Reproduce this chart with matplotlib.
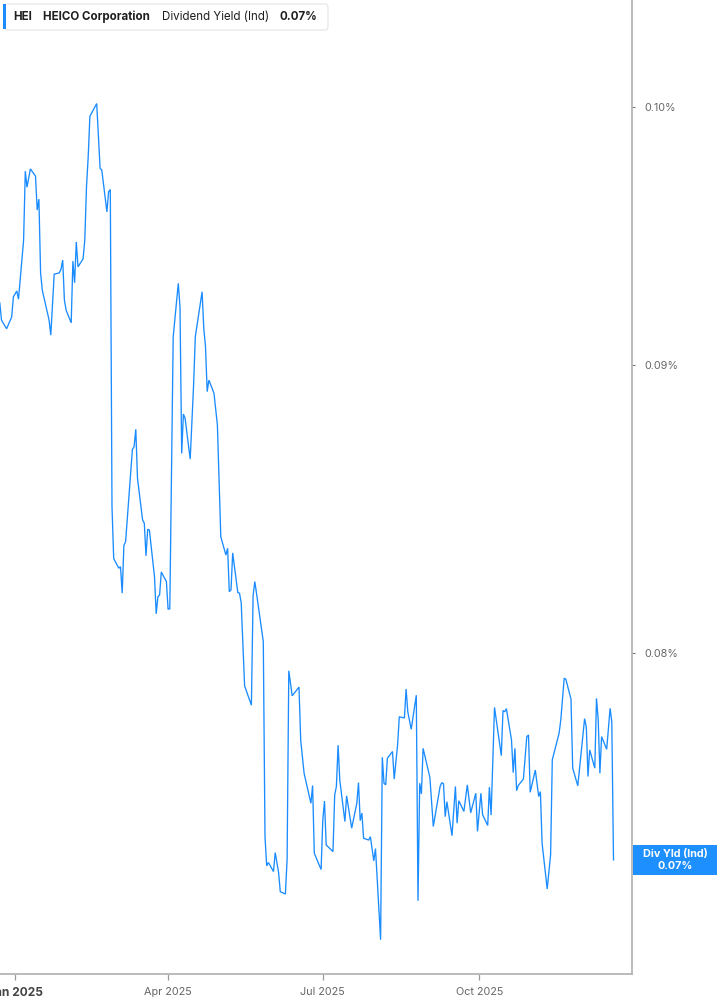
import matplotlib
matplotlib.use("Agg")
import matplotlib.pyplot as plt
import matplotlib.dates as mdates
from matplotlib.patches import FancyBboxPatch, Rectangle
from matplotlib.ticker import FixedLocator, FuncFormatter, NullLocator
import pandas as pd

plt.rcParams['font.family'] = ['Inter', 'DejaVu Sans']

# ---------------- data ----------------
dates = [
    "2024-12-23", "2024-12-24", "2024-12-27", "2024-12-30", "2024-12-31",
    "2025-01-02", "2025-01-03", "2025-01-06", "2025-01-07", "2025-01-08",
    "2025-01-10", "2025-01-13", "2025-01-14", "2025-01-15", "2025-01-16",
    "2025-01-17", "2025-01-21", "2025-01-22", "2025-01-24", "2025-01-27",
    "2025-01-28", "2025-01-29", "2025-01-30", "2025-01-31", "2025-02-03",
    "2025-02-04", "2025-02-05", "2025-02-06", "2025-02-07", "2025-02-10",
    "2025-02-11", "2025-02-12", "2025-02-13", "2025-02-14", "2025-02-18",
    "2025-02-20", "2025-02-21", "2025-02-24", "2025-02-25", "2025-02-26",
    "2025-02-27", "2025-02-28", "2025-03-03", "2025-03-04", "2025-03-05",
    "2025-03-06", "2025-03-07", "2025-03-11", "2025-03-12", "2025-03-13",
    "2025-03-14", "2025-03-17", "2025-03-18", "2025-03-19", "2025-03-20",
    "2025-03-21", "2025-03-24", "2025-03-25", "2025-03-26", "2025-03-27",
    "2025-03-28", "2025-03-31", "2025-04-01", "2025-04-02", "2025-04-04",
    "2025-04-07", "2025-04-08", "2025-04-09", "2025-04-10", "2025-04-11",
    "2025-04-14", "2025-04-16", "2025-04-17", "2025-04-21", "2025-04-22",
    "2025-04-23", "2025-04-24", "2025-04-25", "2025-04-28", "2025-04-30",
    "2025-05-02", "2025-05-05", "2025-05-06", "2025-05-07", "2025-05-08",
    "2025-05-09", "2025-05-12", "2025-05-13", "2025-05-14", "2025-05-16",
    "2025-05-20", "2025-05-21", "2025-05-22", "2025-05-23", "2025-05-27",
    "2025-05-28", "2025-05-29", "2025-05-30", "2025-06-02", "2025-06-03",
    "2025-06-05", "2025-06-06", "2025-06-09", "2025-06-10", "2025-06-11",
    "2025-06-13", "2025-06-17", "2025-06-18", "2025-06-20", "2025-06-24",
    "2025-06-25", "2025-06-26", "2025-06-30", "2025-07-01", "2025-07-02",
    "2025-07-03", "2025-07-07", "2025-07-08", "2025-07-09", "2025-07-10",
    "2025-07-11", "2025-07-14", "2025-07-15", "2025-07-18", "2025-07-21",
    "2025-07-22", "2025-07-23", "2025-07-24", "2025-07-25", "2025-07-28",
    "2025-07-29", "2025-07-31", "2025-08-01", "2025-08-04", "2025-08-05",
    "2025-08-06", "2025-08-07", "2025-08-08", "2025-08-11", "2025-08-12",
    "2025-08-14", "2025-08-15", "2025-08-18", "2025-08-19", "2025-08-20",
    "2025-08-22", "2025-08-25", "2025-08-26", "2025-08-27", "2025-08-28",
    "2025-08-29", "2025-09-02", "2025-09-04", "2025-09-08", "2025-09-09",
    "2025-09-10", "2025-09-11", "2025-09-12", "2025-09-15", "2025-09-17",
    "2025-09-18", "2025-09-19", "2025-09-22", "2025-09-24", "2025-09-26",
    "2025-09-29", "2025-09-30", "2025-10-02", "2025-10-03", "2025-10-06",
    "2025-10-07", "2025-10-08", "2025-10-10", "2025-10-14", "2025-10-15",
    "2025-10-16", "2025-10-17", "2025-10-20", "2025-10-21", "2025-10-22",
    "2025-10-23", "2025-10-24", "2025-10-27", "2025-10-29", "2025-10-30",
    "2025-10-31", "2025-11-03", "2025-11-05", "2025-11-06", "2025-11-07",
    "2025-11-10", "2025-11-12", "2025-11-13", "2025-11-17", "2025-11-18",
    "2025-11-20", "2025-11-21", "2025-11-24", "2025-11-25", "2025-11-28",
    "2025-12-02", "2025-12-03", "2025-12-04", "2025-12-05", "2025-12-08",
    "2025-12-09", "2025-12-10", "2025-12-11", "2025-12-12", "2025-12-15",
    "2025-12-17", "2025-12-18", "2025-12-19",
]

div_yield_pct = [
    0.09231, 0.09166, 0.09134, 0.09178, 0.09254,
    0.09276, 0.09245, 0.09471, 0.09742, 0.09678,
    0.09751, 0.09722, 0.09588, 0.09631, 0.09344,
    0.09279, 0.09166, 0.09110, 0.09340, 0.09345,
    0.09359, 0.09394, 0.09242, 0.09204, 0.09156,
    0.09390, 0.09307, 0.09464, 0.09368, 0.09399,
    0.09471, 0.09680, 0.09799, 0.09963, 0.10015,
    0.09753, 0.09746, 0.09581, 0.09660, 0.09669,
    0.08493, 0.08315, 0.08282, 0.08287, 0.08198,
    0.08360, 0.08372, 0.08694, 0.08704, 0.08766,
    0.08592, 0.08447, 0.08436, 0.08324, 0.08415,
    0.08412, 0.08253, 0.08129, 0.08186, 0.08192,
    0.08269, 0.08237, 0.08144, 0.08146, 0.09104,
    0.09305, 0.09216, 0.08680, 0.08821, 0.08805,
    0.08660, 0.08926, 0.09104, 0.09273, 0.09135,
    0.09067, 0.08902, 0.08944, 0.08896, 0.08781,
    0.08389, 0.08327, 0.08350, 0.08203, 0.08209,
    0.08334, 0.08200, 0.08198, 0.08166, 0.07893,
    0.07831, 0.08189, 0.08237, 0.08198, 0.08037,
    0.07421, 0.07333, 0.07343, 0.07316, 0.07373,
    0.07313, 0.07256, 0.07249, 0.07351, 0.07942,
    0.07861, 0.07889, 0.07720, 0.07616, 0.07523,
    0.07578, 0.07371, 0.07322, 0.07472, 0.07530,
    0.07396, 0.07376, 0.07549, 0.07575, 0.07704,
    0.07595, 0.07467, 0.07546, 0.07447, 0.07523,
    0.07587, 0.07470, 0.07493, 0.07416, 0.07411,
    0.07421, 0.07348, 0.07385, 0.07115, 0.07666,
    0.07585, 0.07580, 0.07663, 0.07684, 0.07598,
    0.07705, 0.07794, 0.07790, 0.07883, 0.07810,
    0.07754, 0.07863, 0.07229, 0.07585, 0.07552,
    0.07694, 0.07603, 0.07452, 0.07575, 0.07587,
    0.07583, 0.07482, 0.07528, 0.07424, 0.07575,
    0.07462, 0.07531, 0.07498, 0.07580, 0.07494,
    0.07554, 0.07437, 0.07554, 0.07488, 0.07455,
    0.07573, 0.07487, 0.07824, 0.07671, 0.07814,
    0.07810, 0.07820, 0.07720, 0.07618, 0.07694,
    0.07562, 0.07578, 0.07598, 0.07731, 0.07736,
    0.07557, 0.07626, 0.07544, 0.07559, 0.07401,
    0.07264, 0.07366, 0.07658, 0.07742, 0.07784,
    0.07918, 0.07914, 0.07850, 0.07632, 0.07577,
    0.07788, 0.07761, 0.07606, 0.07689, 0.07632,
    0.07853, 0.07784, 0.07616, 0.07731, 0.07691,
    0.07821, 0.07778, 0.07351,
]

y_ticks = [0.08, 0.09, 0.10]
x_tick_dates = ["2025-01-01", "2025-04-01", "2025-07-01", "2025-10-01"]
x_tick_labels = ["Jan 2025", "Apr 2025", "Jul 2025", "Oct 2025"]

ticker_sym = "HEI"
company = "HEICO Corporation"
metric = "Dividend Yield (Ind)"
last_label = "0.07%"
badge_title = "Div Yld (Ind)"

# ---------------- figure ----------------
W, H = 717, 1005
fig = plt.figure(figsize=(W / 100, H / 100), dpi=100)
fig.patch.set_facecolor("white")

ax_left, ax_right_px, ax_bottom_px = 0, 632.3, 974.3
ax = fig.add_axes([0, (H - ax_bottom_px) / H, ax_right_px / W, ax_bottom_px / H])

x = pd.to_datetime(dates)
line_color = "#1a8cff"
ax.plot(x, div_yield_pct, color=line_color, lw=0.95, solid_joinstyle="miter")

ax.set_yscale("log")
ax.set_ylim(0.07015, 0.10448)
jan1 = pd.Timestamp("2025-01-01")
ax.set_xlim(jan1 - pd.Timedelta(days=8.88), jan1 + pd.Timedelta(days=363.06))

# spines
for s in ["top", "left"]:
    ax.spines[s].set_visible(False)
spine_col = "#b5b5b5"
for s in ["right", "bottom"]:
    ax.spines[s].set_color(spine_col)
    ax.spines[s].set_linewidth(1.3)

# y axis on the right
ax.yaxis.tick_right()
ax.yaxis.set_major_locator(FixedLocator(y_ticks))
ax.yaxis.set_minor_locator(NullLocator())
ax.yaxis.set_major_formatter(FuncFormatter(lambda v, p: f"{v:.2f}%"))
ax.tick_params(axis="y", which="major", direction="out", length=2.5, width=0.8,
               color="#777777", pad=6, labelsize=7.8, labelcolor="#666666")

# x axis
ax.xaxis.set_major_locator(FixedLocator(mdates.date2num(pd.to_datetime(x_tick_dates))))
ax.xaxis.set_minor_locator(NullLocator())
ax.set_xticklabels(x_tick_labels)
ax.tick_params(axis="x", which="major", direction="out", length=4, width=0.9,
               color="#999999", pad=5, labelsize=7.8, labelcolor="#666666")
for i, lbl in enumerate(ax.get_xticklabels()):
    if i == 0:
        lbl.set_fontweight("bold")
        lbl.set_fontsize(8.6)
        lbl.set_color("#444444")
ax.grid(False)

# ---------------- legend box (top-left) ----------------
def fx(px):
    return px / W

def fy(py):
    return 1 - py / H

box = FancyBboxPatch((fx(4), fy(30)), fx(324), 26 / H,
                     boxstyle="round,pad=0,rounding_size=0.004",
                     transform=fig.transFigure, facecolor="white",
                     edgecolor="#e4e4e4", linewidth=0.8, zorder=5)
fig.patches.append(box)
bar = Rectangle((fx(3), fy(29.5)), fx(3), 25 / H, transform=fig.transFigure,
                facecolor=line_color, edgecolor="none", zorder=6)
fig.patches.append(bar)

ty = fy(17)
fig.text(fx(13), ty, ticker_sym, fontsize=8.3, fontweight="bold", color="#1f1f1f",
         va="center", ha="left", zorder=7)
fig.text(fx(43), ty, company, fontsize=8.3, fontweight="bold", color="#1f1f1f",
         va="center", ha="left", zorder=7)
fig.text(fx(162), ty, metric, fontsize=8.3, color="#1f1f1f",
         va="center", ha="left", zorder=7)
fig.text(fx(279), ty, last_label, fontsize=8.3, fontweight="bold", color="#1f1f1f",
         va="center", ha="left", zorder=7)

# ---------------- last value badge (right) ----------------
fig.canvas.draw()
last_disp = ax.transData.transform((mdates.date2num(x[-1]), div_yield_pct[-1]))
last_fig_y = fig.transFigure.inverted().transform(last_disp)[1]
badge_h = 30 / H
badge = Rectangle((fx(633), last_fig_y - badge_h / 2), fx(90), badge_h,
                  transform=fig.transFigure, facecolor="#1e8fff",
                  edgecolor="none", zorder=6)
fig.patches.append(badge)
fig.text(fx(675), last_fig_y + 5.5 / H, badge_title, fontsize=7.8, fontweight="bold",
         color="white", ha="center", va="center", zorder=7)
fig.text(fx(675), last_fig_y - 6.5 / H, last_label, fontsize=7.8, fontweight="bold",
         color="white", ha="center", va="center", zorder=7)

fig.savefig("out.png", dpi=100, facecolor="white")
